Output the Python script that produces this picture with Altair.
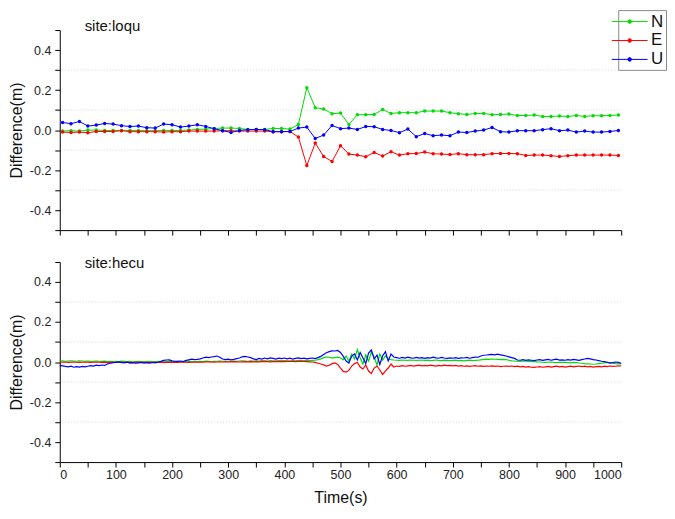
import altair as alt
import pandas as pd

COMPONENTS = ["N", "E", "U"]
COLORS = ["#00dd00", "#ff0000", "#0000ff"]
Y_TICKS = [-0.5, -0.4, -0.3, -0.2, -0.1, 0.0, 0.1, 0.2, 0.3, 0.4, 0.5]
GRID_VALUES = [-0.3, -0.1, 0.1, 0.3]
X_TICKS = [0, 50, 100, 150, 200, 250, 300, 350, 400, 450, 500,
           550, 600, 650, 700, 750, 800, 850, 900, 950, 1000]

# ---------- site:loqu (sampled every 15 s, metres) ----------
TOP_T = list(range(5, 1000, 15))
TOP_N = [-0.005, -0.003, -0.005, 0.0, 0.0, -0.002, -0.002, -0.002, -0.002, -0.002,
         -0.003, -0.003, -0.002, -0.002, -0.002, 0.0, 0.003, 0.005, 0.008, 0.010,
         0.010, 0.008, 0.003, 0.003,
         0.003, 0.008, 0.008, 0.005, 0.028, 0.212, 0.112, 0.105, 0.082, 0.085,
         0.028, 0.077, 0.077, 0.078, 0.103, 0.083, 0.087, 0.087, 0.087, 0.095,
         0.095, 0.095,
         0.087, 0.082, 0.078, 0.083, 0.083, 0.077, 0.078, 0.080, 0.073, 0.073,
         0.075, 0.068, 0.068, 0.070, 0.068, 0.073, 0.068, 0.072, 0.072, 0.073, 0.075]
TOP_E = [-0.010, -0.012, -0.010, -0.013, -0.007, -0.007, -0.007, -0.003, -0.008, -0.008,
         -0.008, -0.008, -0.010, -0.008, -0.008, -0.005, -0.005, -0.005, -0.005, -0.003,
         -0.003, -0.005, -0.005, -0.005,
         -0.005, -0.008, -0.008, -0.007, -0.035, -0.177, -0.065, -0.132, -0.157, -0.078,
         -0.120, -0.125, -0.133, -0.112, -0.130, -0.108, -0.125, -0.118, -0.117, -0.110,
         -0.118, -0.120,
         -0.122, -0.118, -0.123, -0.123, -0.123, -0.118, -0.117, -0.117, -0.118, -0.127,
         -0.125, -0.125, -0.128, -0.132, -0.128, -0.125, -0.125, -0.125, -0.125, -0.125, -0.127]
TOP_U = [0.038, 0.032, 0.043, 0.020, 0.025, 0.033, 0.030, 0.022, 0.018, 0.020,
         0.012, 0.010, 0.030, 0.027, 0.015, 0.020, 0.027, 0.018, 0.007, -0.003,
         -0.012, -0.002, 0.002, 0.003,
         0.002, -0.008, -0.008, -0.007, 0.010, 0.015, -0.042, -0.025, 0.023, 0.007,
         0.010, 0.003, 0.018, 0.017, 0.003, -0.002, -0.013, 0.005, -0.033, -0.017,
         -0.028, -0.025,
         -0.028, -0.010, -0.012, -0.005, 0.000, 0.013, -0.008, -0.010, -0.003, -0.003,
         -0.003, 0.002, 0.007, -0.003, 0.000, -0.010, -0.005, -0.010, -0.010, -0.007, -0.002]

# ---------- site:hecu (sampled every 5 s, millimetres) ----------
BOT_T = list(range(0, 1001, 5))
BOT_N_MM = [5, 6, 4, 5, 6, 5, 4, 6, 5, 4,
            5, 4, 3, 5, 4, 3, 4, 2, 3, 2,
            3, 2, 4, 3, 2, 3, 1, 2, 3, 2,
            1, 2, 3, 1, 2, 3, 2, 1, 2, 3,
            2, 1, 3, 2, 1, 2, 3, 2, 1, 2,
            3, 2, 4, 3, 2, 3, 4, 5, 4, 3,
            4, 3, 5, 4, 5, 6, 5, 4, 6, 5,
            6, 5, 7, 6, 5, 7, 6, 5, 7, 6,
            7, 6, 5, 7, 6, 8, 7, 6, 8, 7,
            8, 9, 12, 16, 22, 25, 24, 20, 22, 24,
            20, 12, 30, 5, 40, 15, 62, 20, -10, 35,
            5, 50, 25, -15, 40, 10, 30, 15, 12, 10,
            9, 8, 10, 9, 8, 10, 9, 8, 9, 10,
            8, 9, 7, 8, 10, 8, 7, 9, 8, 7,
            8, 9, 7, 8, 6, 8, 9, 7, 8, 9,
            11, 13, 14, 13, 15, 14, 13, 12, 13, 12,
            9, 6, 5, 4, 3, 5, 4, 3, 2, 3,
            1, 0, -1, -2, -1, 0, -2, -3, -2, -1,
            -2, -3, -4, -2, -3, -5, -6, -8, -9, -10,
            -11, -10, -8, -6, -4, -2, -3, -6, -8, -9,
            -8]
BOT_E_MM = [0, -1, 0, -2, -1, 0, -1, -2, -1, 0,
            -1, -2, -1, 0, -1, -2, -1, -3, -2, -1,
            -2, -1, -3, -2, -1, -2, -3, -2, -1, -2,
            -1, -2, -3, -2, -1, -2, -1, -3, -2, -1,
            -2, -1, -2, -1, 0, -1, -2, -1, 0, -1,
            0, -1, 0, 1, 0, -1, 0, 1, 0, 1,
            0, 1, 2, 1, 0, 1, 2, 1, 2, 1,
            2, 1, 2, 3, 2, 1, 2, 3, 2, 3,
            2, 3, 4, 3, 2, 3, 4, 3, 2, 1,
            0, -2, -6, -10, -14, -20, -16, -8, -4, -12,
            -30, -47, -50, -42, -20, -8, -2, -25, -35, -15,
            -45, -58, -30, -20, -40, -62, -45, -30, -10, -25,
            -20, -22, -18, -21, -19, -17, -20, -18, -16, -19,
            -17, -19, -16, -18, -20, -17, -19, -16, -18, -17,
            -19, -17, -20, -18, -21, -19, -22, -20, -18, -21,
            -19, -22, -20, -21, -19, -22, -20, -23, -21, -20,
            -22, -20, -23, -21, -24, -22, -25, -23, -26, -27,
            -25, -23, -26, -24, -22, -25, -23, -21, -24, -22,
            -25, -23, -21, -24, -22, -20, -23, -21, -24, -22,
            -25, -23, -22, -24, -21, -23, -20, -22, -21, -19,
            -20]
BOT_U_MM = [-17, -19, -22, -24, -21, -26, -23, -25, -22, -24,
            -21, -18, -20, -16, -18, -15, -17, -10, -6, -3,
            -2, 1, -2, -4, -1, -5, -3, -6, -4, -2,
            -5, -3, -6, -2, -4, -1, 3, 8, 10, 11,
            6, 4, 3, 5, 2, 8, 11, 14, 12, 13,
            16, 20, 24, 22, 25, 27, 30, 24, 15, 12,
            14, 11, 13, 17, 20, 26, 28, 25, 22, 16,
            12, 18, 15, 20, 16, 21, 18, 15, 19, 17,
            20, 16, 19, 15, 18, 21, 17, 19, 16, 18,
            20, 17, 22, 28, 38, 46, 52, 56, 55, 58,
            48, 28, 5, -5, 30, 40, 10, 48, 20, -8,
            45, 60, 15, 35, -12, 30, 52, 5, 40, 25,
            22, 19, 23, 20, 24, 21, 19, 23, 20, 22,
            18, 22, 20, 24, 21, 19, 23, 20, 18, 21,
            19, 22, 18, 21, 20, 23, 19, 22, 25, 24,
            30, 34, 35, 37, 38, 36, 39, 36, 33, 30,
            26, 22, 18, 10, 9, 12, 8, 11, 9, 7,
            10, 12, 8, 11, 13, 9, 12, 14, 10, 11,
            9, 12, 10, 13, 11, 8, 12, 15, 18, 16,
            12, 10, 7, 4, 2, -1, -5, -3, 0, -2,
            -6]


def to_long(times, series, scale=1.0):
    rows = []
    for comp, vals in zip(COMPONENTS, series):
        for t, v in zip(times, vals):
            rows.append({"t": t, "v": v * scale, "c": comp})
    return pd.DataFrame(rows)


top_df = to_long(TOP_T, [TOP_N, TOP_E, TOP_U])
bot_df = to_long(BOT_T, [BOT_N_MM, BOT_E_MM, BOT_U_MM], scale=0.001)

FONT = "Liberation Sans"
Y_LABEL_EXPR = ("abs(round(datum.value*10)) % 2 == 0 ? "
                "replace(format(datum.value, '.1f'), '\u2212', '-') : ''")

LEGEND = alt.Legend(
    orient="none", legendX=561, legendY=-20, title=None,
    symbolType="M-2,0H2M-0.2,0A0.2,0.2,0,1,0,0.2,0A0.2,0.2,0,1,0,-0.2,0",
    symbolSize=324, symbolStrokeWidth=1, labelFontSize=17, labelFont=FONT,
    labelOffset=12, rowPadding=1, padding=2, strokeColor="#888888",
    fillColor="white", labelColor="#111111",
)


def panel(df, site, bottom, points):
    x = alt.X("t:Q", scale=alt.Scale(domain=[0, 1000], nice=False, zero=False),
              axis=alt.Axis(values=X_TICKS, grid=False,
                            labelExpr="datum.value % 100 == 0 ? format(datum.value, 'd') : ''",
                            labels=bottom, title="Time(s)" if bottom else None,
                            titlePadding=8))
    y = alt.Y("v:Q", scale=alt.Scale(domain=[-0.5, 0.5], nice=False),
              axis=alt.Axis(values=Y_TICKS, labelExpr=Y_LABEL_EXPR, grid=False,
                            title="Difference(m)", titlePadding=5, labelPadding=4))
    color = alt.Color("c:N", scale=alt.Scale(domain=COMPONENTS, range=COLORS),
                      sort=COMPONENTS, legend=LEGEND)
    width = alt.StrokeWidth("c:N", scale=alt.Scale(
        domain=COMPONENTS, range=[1.0, 1.0, 1.0] if points else [1.2, 1.2, 2.0]),
        legend=None)

    grid = alt.Chart(pd.DataFrame({"v": GRID_VALUES})).mark_rule(
        color="#d4d4d4", strokeDash=[1, 2], strokeWidth=1).encode(y=y)
    lines = alt.Chart(df).mark_line().encode(
        x=x, y=y, color=color, strokeWidth=width, order="t:Q")
    layers = [grid, lines]
    if points:
        layers.append(alt.Chart(df).mark_point(filled=True, size=12, opacity=1).encode(
            x=x, y=y, color=color))
    label = alt.Chart(pd.DataFrame({"s": [site]})).mark_text(
        align="left", baseline="middle", fontSize=15, font=FONT, color="#111111"
    ).encode(text="s:N", x=alt.value(25), y=alt.value(1 if bottom else -4))
    layers.append(label)
    return alt.layer(*layers).properties(width=564, height=201)


chart = alt.vconcat(
    panel(top_df, "site:loqu", False, True),
    panel(bot_df, "site:hecu", True, False),
    spacing=20,
).resolve_scale(color="shared", strokeWidth="independent").properties(
    padding={"left": 0, "top": 0, "right": 0, "bottom": 0}
).configure_view(stroke=None).configure_axis(
    domainColor="#000000", tickColor="#000000", tickSize=5,
    labelFont=FONT, titleFont=FONT, labelFontSize=12.5, titleFontSize=16,
    titleFontWeight="normal", labelColor="#222222", titleColor="#111111",
)

chart.save("out.html", embed_options={"renderer": "svg", "actions": False})
